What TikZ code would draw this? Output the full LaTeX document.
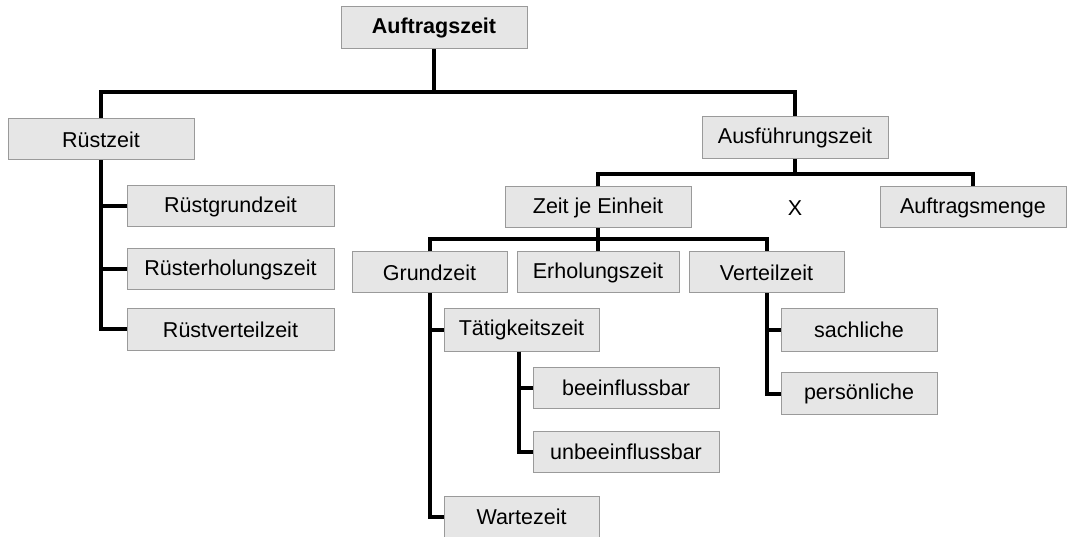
\documentclass[tikz,border=0pt]{standalone}
\usepackage{fontspec}
\setmainfont{Liberation Sans}
\definecolor{boxfill}{HTML}{E6E6E6}
\definecolor{boxline}{HTML}{9A9A9A}
\tikzset{
  box/.style={draw=boxline, line width=1pt, fill=boxfill, inner sep=0pt,
    minimum height=41pt, font=\fontsize{21.5}{24}\selectfont, text=black},
  conn/.style={line width=4pt, draw=black, line join=miter},
}
\begin{document}
\begin{tikzpicture}[x=1pt,y=-1pt]
\useasboundingbox (0,0) rectangle (1071,537);
% nodes
\node[box, minimum width=186pt, minimum height=42pt, font=\fontsize{21.5}{24}\selectfont\bfseries] (auftrag) at (434,28) {Auftragszeit};
\node[box, minimum width=186pt] (ruest) at (101,139.5) {Rüstzeit};
\node[box, minimum width=207pt] (rgz) at (230.5,206.5) {Rüstgrundzeit};
\node[box, minimum width=207pt] (rez) at (230.5,269.5) {Rüsterholungszeit};
\node[box, minimum width=207pt] (rvz) at (230.5,329.5) {Rüstverteilzeit};
\node[box, minimum width=186pt, minimum height=42pt] (ausf) at (795,138) {Ausführungszeit};
\node[box, minimum width=186pt] (zje) at (598,207.5) {Zeit je Einheit};
\node[font=\fontsize{21.5}{24}\selectfont, inner sep=0pt] (x) at (795,208) {X};
\node[box, minimum width=186pt] (menge) at (973,207.5) {Auftragsmenge};
\node[box, minimum width=155pt] (grund) at (429.5,272.5) {Grundzeit};
\node[box, minimum width=162pt] (erh) at (598,272.5) {Erholungszeit};
\node[box, minimum width=155pt] (vert) at (766.5,272.5) {Verteilzeit};
\node[box, minimum width=155pt, minimum height=42pt] (taet) at (521.5,330) {Tätigkeitszeit};
\node[box, minimum width=186pt] (bee) at (626,387.5) {beeinflussbar};
\node[box, minimum width=186pt] (unbee) at (626,451.5) {unbeeinflussbar};
\node[box, minimum width=155pt, minimum height=42pt] (warte) at (521.5,517) {Wartezeit};
\node[box, minimum width=156pt, minimum height=42pt] (sach) at (859,330) {sachliche};
\node[box, minimum width=156pt, minimum height=42pt] (pers) at (859,393.5) {persönliche};
% bus coordinates
\coordinate (b1) at (0,92);
\coordinate (b2) at (0,174);
\coordinate (b3) at (0,239.5);
% connectors
\draw[conn] (auftrag.south) -- (auftrag.south |- b1);
\draw[conn] (ruest.north) -- (ruest.north |- b1) -- (ausf.north |- b1) -- (ausf.north);
\draw[conn] (ruest.south) |- (rgz.west);
\draw[conn] (ruest.south) |- (rez.west);
\draw[conn] (ruest.south) |- (rvz.west);
\draw[conn] (ausf.south) -- (ausf.south |- b2);
\draw[conn] (zje.north) -- (zje.north |- b2) -- (menge.north |- b2) -- (menge.north);
\draw[conn] (zje.south) -- (erh.north);
\draw[conn] (grund.north) -- (grund.north |- b3) -- (vert.north |- b3) -- (vert.north);
\draw[conn] (grund.south) |- (taet.west);
\draw[conn] (grund.south) |- (warte.west);
\draw[conn] ([xshift=-3pt]taet.south) |- (bee.west);
\draw[conn] ([xshift=-3pt]taet.south) |- (unbee.west);
\draw[conn] (vert.south) |- (sach.west);
\draw[conn] (vert.south) |- (pers.west);
\end{tikzpicture}
\end{document}
